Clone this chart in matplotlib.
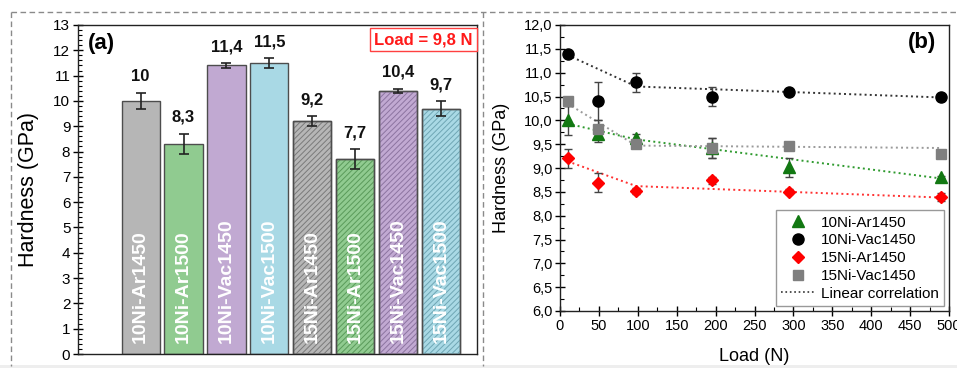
import matplotlib
matplotlib.use("Agg")
import matplotlib.pyplot as plt
from matplotlib.ticker import MultipleLocator, FuncFormatter
from matplotlib.patches import Rectangle
from matplotlib.lines import Line2D

plt.rcParams['font.family'] = ['Liberation Sans', 'DejaVu Sans']
plt.rcParams['hatch.linewidth'] = 0.7

# ---------------- data: panel (a) ----------------
samples = ["10Ni-Ar1450", "10Ni-Ar1500", "10Ni-Vac1450", "10Ni-Vac1500",
           "15Ni-Ar1450", "15Ni-Ar1500", "15Ni-Vac1450", "15Ni-Vac1500"]
hardness = [10, 8.3, 11.4, 11.5, 9.2, 7.7, 10.4, 9.7]
hardness_err = [0.3, 0.4, 0.1, 0.2, 0.2, 0.4, 0.08, 0.3]
value_labels = ["10", "8,3", "11,4", "11,5", "9,2", "7,7", "10,4", "9,7"]
bar_colors = ["#b6b6b6", "#90cb90", "#c1a9d2", "#a9d9e5",
              "#b6b6b6", "#90cb90", "#c1a9d2", "#a9d9e5"]
hatch_colors = ["#7a7a7a", "#5a9a5a", "#8c74a0", "#6fa6b4"]
hatched = [False, False, False, False, True, True, True, True]

# ---------------- data: panel (b) ----------------
load = [9.8, 49, 98, 196, 294, 490]
series_names = ["10Ni-Ar1450", "10Ni-Vac1450", "15Ni-Ar1450", "15Ni-Vac1450"]
ar10 = [10.0, 9.72, 9.62, 9.42, 9.02, 8.81]
ar10_err = [0.3, 0.17, 0.1, 0.2, 0.2, 0.03]
vac10 = [11.4, 10.4, 10.8, 10.5, 10.6, 10.49]
vac10_err = [0.06, 0.4, 0.2, 0.2, 0.05, 0.03]
ar15 = [9.2, 8.69, 8.52, 8.74, 8.5, 8.39]
ar15_err = [0.2, 0.2, 0.07, 0.08, 0.05, 0.08]
vac15 = [10.4, 9.81, 9.5, 9.42, 9.47, 9.3]
vac15_err = [0.1, 0.2, 0.05, 0.2, 0.05, 0.03]
trend_load = [9.8, 98, 490]
ar10_trend = [9.93, 9.6, 8.78]
vac10_trend = [11.37, 10.71, 10.48]
ar15_trend = [9.14, 8.62, 8.38]
vac15_trend = [10.35, 9.47, 9.42]

W, H = 957, 368
fig = plt.figure(figsize=(W / 100, H / 100), dpi=100)

def fx(px):
    return px / W

def fy(py):
    return 1 - py / H

# background strip and dashed panel borders
fig.patches.append(Rectangle((0, 0), 1, fy(365), transform=fig.transFigure,
                             facecolor="#eeeeee", edgecolor="none", zorder=-5))
dash_kw = dict(color="#8a8a8a", lw=1.0, ls=(0, (4, 2.5)), transform=fig.transFigure)
fig.add_artist(Line2D([fx(11), fx(957)], [fy(12), fy(12)], **dash_kw))
fig.add_artist(Line2D([fx(11), fx(11)], [fy(12), fy(366)], **dash_kw))
fig.add_artist(Line2D([fx(483), fx(483)], [fy(12), fy(366)], **dash_kw))

# ---------------- panel (a) ----------------
axa = fig.add_axes([fx(78), fy(354), fx(477 - 78), fy(25) - fy(354)])
xpos = list(range(len(samples)))
for i in xpos:
    axa.bar(i, hardness[i], width=0.89, color=bar_colors[i], edgecolor="#4d4d4d",
            linewidth=1.0, zorder=2)
    if hatched[i]:
        axa.bar(i, hardness[i], width=0.89, color="none",
                edgecolor=hatch_colors[i % 4], hatch="//////", linewidth=0, zorder=3)
        axa.bar(i, hardness[i], width=0.89, color="none", edgecolor="#4d4d4d",
                linewidth=1.0, zorder=4)
axa.errorbar(xpos, hardness, yerr=hardness_err, fmt="none", ecolor="#222222",
             elinewidth=1.2, capsize=3.5, capthick=1.2, zorder=5)
for i in xpos:
    axa.text(i, hardness[i] + hardness_err[i] + 0.35, value_labels[i],
             ha="center", va="bottom", fontsize=12, fontweight="bold", color="#111111")
    axa.text(i, 0.45, samples[i], rotation=90, ha="center", va="bottom",
             fontsize=14, fontweight="bold", color="white", zorder=6)

axa.set_xlim(-1.46, 7.84)
axa.set_ylim(0, 13)
axa.set_xticks([])
axa.yaxis.set_major_locator(MultipleLocator(1))
axa.yaxis.set_minor_locator(MultipleLocator(0.2))
axa.tick_params(axis="y", which="major", direction="inout", length=7, width=1,
                labelsize=11, pad=2)
axa.tick_params(axis="y", which="minor", direction="in", length=3, width=0.8)
axa.set_ylabel("Hardness (GPa)", fontsize=15.5, labelpad=10)
for s in axa.spines.values():
    s.set_color("#222222")
    s.set_linewidth(1.0)
axa.text(0.025, 0.975, "(a)", transform=axa.transAxes, ha="left", va="top",
         fontsize=16, fontweight="bold")
axa.text(0.865, 0.955, "Load = 9,8 N", transform=axa.transAxes, ha="center",
         va="center", fontsize=12, fontweight="bold", color="#ff1a1a",
         bbox=dict(boxstyle="square,pad=0.25", facecolor="white",
                   edgecolor="#ff4040", linewidth=1.0))

# ---------------- panel (b) ----------------
axb = fig.add_axes([fx(560), fy(311), fx(949 - 560), fy(25) - fy(311)])
specs = [
    (ar10, ar10_err, ar10_trend, "#127812", "^", 8, "#2e9a2e"),
    (vac10, vac10_err, vac10_trend, "#000000", "o", 8, "#333333"),
    (ar15, ar15_err, ar15_trend, "#ff0000", "D", 6.5, "#ff3030"),
    (vac15, vac15_err, vac15_trend, "#7f7f7f", "s", 6.5, "#9a9a9a"),
]
handles = []
for (vals, errs, trend, col, mk, ms, lcol), name in zip(specs, series_names):
    axb.plot(trend_load, trend, ls=":", color=lcol, lw=1.4, zorder=2)
    axb.errorbar(load, vals, yerr=errs, fmt="none", ecolor="#444444",
                 elinewidth=1.0, capsize=3, capthick=1.0, zorder=3)
    h, = axb.plot(load, vals, ls="none", marker=mk, ms=ms, color=col,
                  markeredgecolor=col, zorder=4, label=name)
    handles.append(h)
lc, = axb.plot([], [], ls=":", color="#333333", lw=1.2, label="Linear correlation")
handles.append(lc)

axb.set_xlim(0, 500)
axb.set_ylim(6.0, 12.0)
axb.xaxis.set_major_locator(MultipleLocator(50))
axb.xaxis.set_minor_locator(MultipleLocator(25))
axb.yaxis.set_major_locator(MultipleLocator(0.5))
axb.yaxis.set_minor_locator(MultipleLocator(0.25))
axb.yaxis.set_major_formatter(FuncFormatter(lambda v, p: f"{v:.1f}".replace(".", ",")))
axb.tick_params(which="major", direction="inout", length=7, width=1,
                labelsize=10.5, pad=2)
axb.tick_params(which="minor", direction="in", length=3, width=0.8)
axb.set_xlabel("Load (N)", fontsize=13, labelpad=11)
axb.set_ylabel("Hardness (GPa)", fontsize=13, labelpad=10)
for s in axb.spines.values():
    s.set_color("#222222")
    s.set_linewidth(1.0)
axb.text(0.93, 0.94, "(b)", transform=axb.transAxes, ha="center", va="center",
         fontsize=16, fontweight="bold")
leg = axb.legend(handles=handles, loc="lower right", bbox_to_anchor=(0.987, 0.017),
                 fontsize=11, frameon=True, fancybox=False, edgecolor="#999999",
                 framealpha=1, labelspacing=0.25, handlelength=2.2,
                 handletextpad=0.4, borderpad=0.35, borderaxespad=0)
leg.get_frame().set_linewidth(1.0)

fig.savefig("out.png", dpi=100)
